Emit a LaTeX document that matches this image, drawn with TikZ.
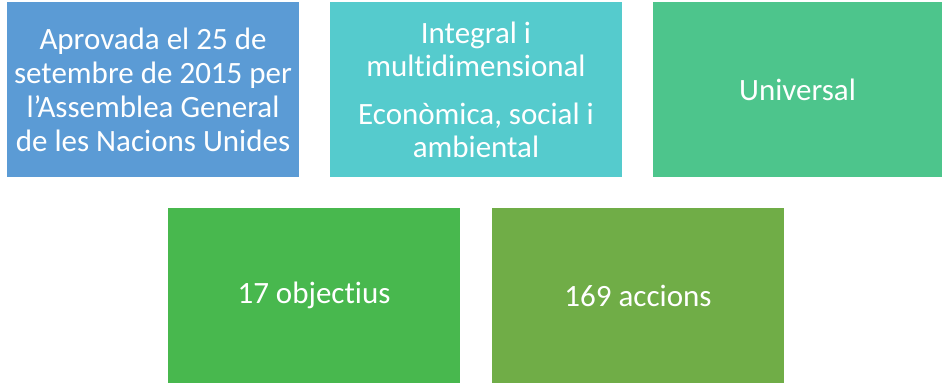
\documentclass[tikz,border=0pt]{standalone}
\usepackage{fontspec}
\setmainfont{Carlito}[Ligatures={NoCommon}]
\definecolor{cblue}{HTML}{5B9BD5}
\definecolor{cteal}{HTML}{55CBCD}
\definecolor{cmint}{HTML}{4DC58C}
\definecolor{cgreen}{HTML}{48B84E}
\definecolor{colive}{HTML}{70AD47}
\begin{document}
\begin{tikzpicture}[x=1pt,y=-1pt,
  tile/.style={rectangle, draw=none, text=white, inner sep=0pt, align=center,
    minimum width=292pt, minimum height=175pt,
    font=\fontsize{31}{34}\selectfont}]
\useasboundingbox (0,0) rectangle (942,383);
\node[tile, fill=cblue] (a) at (153,89.5) {Aprovada el 25 de\\setembre de 2015 per\\l’Assemblea General\\de les Nacions Unides};
\node[tile, fill=cteal, font=\fontsize{31}{33}\selectfont] (b) at (476,89.5) {Integral i\\multidimensional\\[15pt]Econòmica, social i\\ambiental};
\node[tile, fill=cmint, minimum width=289pt] (c) at (797.5,89.5) {Universal};
\node[tile, fill=cgreen] (d) at (314,295.5) {17 objectius};
\node[tile, fill=colive] (e) at (638,295.5) {169 accions};
\end{tikzpicture}
\end{document}
